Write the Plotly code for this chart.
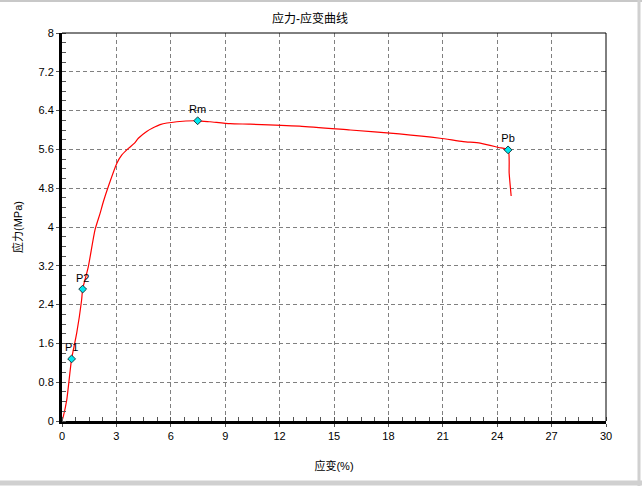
import plotly.graph_objects as go

# ---- data ----
strain = [0.0, 0.07, 0.26, 0.53, 0.81, 1.08, 1.14, 1.45, 1.82, 2.10, 2.28, 2.55, 3.02,
          3.29, 3.66, 4.0, 4.21, 4.67, 5.0, 5.41, 6.33, 7.48, 8.16, 9.27, 10.37, 13.1,
          15.9, 18.6, 20.85, 22.13, 23.06, 24.07, 24.6, 24.66, 24.77]
stress = [0.0, 0.09, 0.43, 1.28, 1.81, 2.49, 2.72, 3.18, 3.94, 4.28, 4.52, 4.83, 5.31,
          5.48, 5.62, 5.73, 5.83, 5.97, 6.04, 6.11, 6.17, 6.19, 6.17, 6.13, 6.12, 6.08,
          6.0, 5.92, 5.83, 5.76, 5.73, 5.64, 5.59, 5.11, 4.64]

point_names = ["P1", "P2", "Rm", "Pb"]
point_strain = [0.53, 1.14, 7.48, 24.6]
point_stress = [1.28, 2.72, 6.19, 5.59]

x_ticks = [0, 3, 6, 9, 12, 15, 18, 21, 24, 27, 30]
y_ticks = [0, 0.8, 1.6, 2.4, 3.2, 4, 4.8, 5.6, 6.4, 7.2, 8]
y_tick_text = ["0", "0.8", "1.6", "2.4", "3.2", "4", "4.8", "5.6", "6.4", "7.2", "8"]

title = "应力-应变曲线"
x_title = "应变(%)"
y_title = "应力(MPa)"

# ---- layout geometry (pixels) ----
W, H = 642, 486
L, R, T, B = 62, 606, 33, 421


def px(x):
    return (x - L) / (R - L)


def py(y):
    return (B - y) / (B - T)


FONT = "Liberation Sans, Noto Sans CJK SC, sans-serif"

fig = go.Figure()
fig.add_trace(go.Scatter(
    x=strain, y=stress, mode="lines",
    line=dict(color="#ff0000", width=1.2, shape="spline", smoothing=0.6),
    hoverinfo="skip", showlegend=False,
))
fig.add_trace(go.Scatter(
    x=point_strain, y=point_stress, mode="markers+text",
    text=point_names, textposition="top center",
    textfont=dict(family=FONT, size=11, color="black"),
    marker=dict(symbol="diamond", size=6, color="#00e8f0",
                line=dict(color="#1a3a40", width=1)),
    showlegend=False,
))
# invisible trace for mirrored inside ticks on the right
fig.add_trace(go.Scatter(x=[0], y=[0], yaxis="y2", mode="markers",
                         marker=dict(opacity=0), showlegend=False, hoverinfo="skip"))

grid = dict(showgrid=True, gridcolor="#808080", griddash="4px,3px", gridwidth=1)

fig.update_layout(
    width=W, height=H,
    margin=dict(l=L, r=W - R, t=T, b=H - B),
    paper_bgcolor="white", plot_bgcolor="white",
    font=dict(family=FONT, size=11, color="black"),
    title=dict(text=title, x=px(310), xref="paper", xanchor="center",
               y=1 - 19 / H, yanchor="middle",
               font=dict(family=FONT, size=12, color="black")),
    xaxis=dict(range=[0, 30], tickvals=x_ticks, ticks="outside", ticklen=3,
               tickcolor="#555555", showline=True, linecolor="black", linewidth=3,
               zeroline=False, tickfont=dict(size=11, color="black"),
               minor=dict(dtick=0.75, ticks="inside", ticklen=4, tickcolor="#555555",
                          showgrid=False),
               title=dict(text=x_title, standoff=22, font=dict(size=11)),
               **grid),
    yaxis=dict(range=[0, 8], tickvals=y_ticks, ticktext=y_tick_text, ticks="outside",
               ticklen=3, tickcolor="#555555", showline=True, linecolor="black",
               linewidth=3, zeroline=False, tickfont=dict(size=11, color="black"),
               minor=dict(dtick=0.2, ticks="inside", ticklen=4, tickcolor="#555555",
                          showgrid=False),
               title=dict(text=y_title, standoff=14, font=dict(size=11)),
               **grid),
    yaxis2=dict(range=[0, 8], overlaying="y", side="right", tickvals=y_ticks,
                ticks="inside", ticklen=3, tickcolor="#555555", showticklabels=False,
                showgrid=False, zeroline=False, showline=False),
    shapes=[
        # thin top/right frame
        dict(type="line", xref="paper", yref="paper", x0=0, x1=1, y0=1, y1=1,
             line=dict(color="black", width=1)),
        dict(type="line", xref="paper", yref="paper", x0=1, x1=1, y0=0, y1=1,
             line=dict(color="black", width=1)),
        # window border shadows
        dict(type="line", xref="paper", yref="paper", x0=px(0), x1=px(W),
             y0=py(1), y1=py(1), line=dict(color="#c8c8c8", width=2), layer="above"),
        dict(type="line", xref="paper", yref="paper", x0=px(639), x1=px(639),
             y0=py(0), y1=py(H), line=dict(color="#d0d0d0", width=3), layer="above"),
        dict(type="line", xref="paper", yref="paper", x0=px(0), x1=px(W),
             y0=py(483), y1=py(483), line=dict(color="#d0d0d0", width=5), layer="above"),
    ],
)

fig.write_html(
    "out.html",
    config={"displayModeBar": False},
    post_script="document.body.style.margin='0';document.body.style.overflow='hidden';",
)
